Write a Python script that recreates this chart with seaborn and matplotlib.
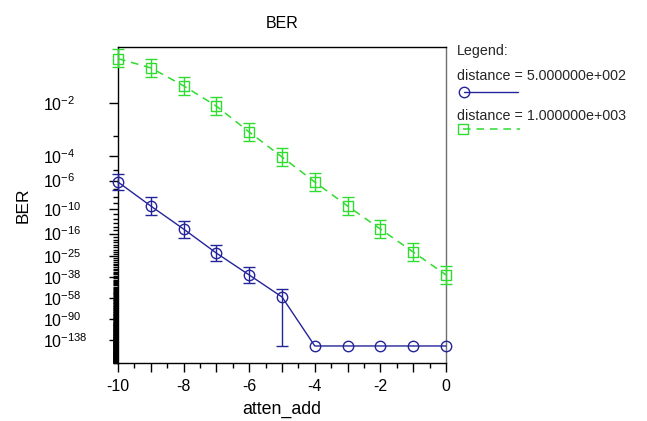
import numpy as np
import pandas as pd
import matplotlib
matplotlib.use("Agg")
import matplotlib.pyplot as plt
import seaborn as sns
from matplotlib.lines import Line2D
from matplotlib.ticker import FixedLocator, FixedFormatter, FuncFormatter

# ---- data -------------------------------------------------------------
atten_add = [-10, -9, -8, -7, -6, -5, -4, -3, -2, -1, 0]

# distance = 500
ber_500 = [7.1e-7, 3.4e-10, 2.2e-15, 3.2e-24, 4.0e-37, 1.3e-57,
           3e-156, 3e-156, 3e-156, 3e-156, 3e-156]
ber_500_lo = [8.3e-8, 6.2e-12, 3.6e-18, 3.2e-28, 1.6e-43, 3e-156,
              3e-156, 3e-156, 3e-156, 3e-156, 3e-156]
ber_500_hi = [4.4e-6, 9.3e-9, 2.8e-13, 1.0e-20, 1.0e-31, 4.0e-49,
              3e-156, 3e-156, 3e-156, 3e-156, 3e-156]

# distance = 1000
ber_1000 = [4.0e-2, 3.3e-2, 2.0e-2, 8.6e-3, 1.5e-3, 8.7e-5,
            7.1e-7, 3.4e-10, 2.2e-15, 1.0e-23, 4.0e-37]
ber_1000_lo = [3.36e-2, 2.61e-2, 1.42e-2, 5.2e-3, 6.3e-4, 2.0e-5,
               6.2e-8, 6.2e-12, 3.6e-18, 3.2e-28, 2.0e-44]
ber_1000_hi = [4.72e-2, 3.97e-2, 2.61e-2, 1.31e-2, 3.1e-3, 2.9e-4,
               5.4e-6, 9.3e-9, 4.8e-13, 5.6e-20, 4.0e-31]

y_major = [1e-2, 1e-4, 1e-6, 1e-10, 1e-16, 1e-25, 1e-38, 1e-58, 1e-90, 1e-138]
y_major_labels = ["$10^{-2}$", "$10^{-4}$", "$10^{-6}$", "$10^{-10}$", "$10^{-16}$",
                  "$10^{-25}$", "$10^{-38}$", "$10^{-58}$", "$10^{-90}$", "$10^{-138}$"]
y_minor_exponents = list(range(3, 221))

legend_labels = ["distance = 5.000000e+002", "distance = 1.000000e+003"]

BLUE = "#24249a"
GREEN = "#2fdc2f"

# ---- style ------------------------------------------------------------
sns.set_theme(style="ticks")
plt.rcParams["font.family"] = ["Liberation Sans", "DejaVu Sans"]
plt.rcParams["mathtext.default"] = "regular"


# double-log BER axis: t = -log10(-log10(y) - 1)
def ber_forward(y):
    y = np.clip(np.asarray(y, dtype=float), 1e-300, 0.099999)
    with np.errstate(all="ignore"):
        return -np.log10(-np.log10(y) - 1.0)


def ber_inverse(t):
    t = np.asarray(t, dtype=float)
    with np.errstate(all="ignore"):
        return 10.0 ** (-(1.0 + 10.0 ** (-t)))


fig = plt.figure(figsize=(6.47, 4.21), dpi=100)
ax = fig.add_axes([118 / 647, 58 / 421, 328 / 647, 316 / 421])
ax.set_yscale("function", functions=(ber_forward, ber_inverse))

df_500 = pd.DataFrame({"atten_add": atten_add, "BER": ber_500})
df_1000 = pd.DataFrame({"atten_add": atten_add, "BER": ber_1000})

sns.lineplot(data=df_500, x="atten_add", y="BER", ax=ax, color=BLUE,
             linewidth=1.0, marker="o", markersize=7.5,
             markerfacecolor="none", markeredgecolor=BLUE, markeredgewidth=1.0,
             clip_on=False, zorder=3)
sns.lineplot(data=df_1000, x="atten_add", y="BER", ax=ax, color=GREEN,
             linewidth=1.1, linestyle=(0, (5.0, 3.8)), marker="s", markersize=7.0,
             markerfacecolor="none", markeredgecolor=GREEN, markeredgewidth=1.0,
             clip_on=False, zorder=3)


def draw_bars(x, lo, hi, color):
    x = np.asarray(x, float)
    lo = np.asarray(lo, float)
    hi = np.asarray(hi, float)
    m = hi > lo
    ax.vlines(x[m], lo[m], hi[m], color=color, linewidth=1.0, clip_on=False, zorder=3)
    for ends in (lo[m], hi[m]):
        ax.plot(x[m], ends, linestyle="none", marker="_", markersize=8,
                markeredgewidth=1.0, color=color, clip_on=False, zorder=3)


draw_bars(atten_add, ber_500_lo, ber_500_hi, BLUE)
draw_bars(atten_add, ber_1000_lo, ber_1000_hi, GREEN)

# ---- axes -------------------------------------------------------------
ax.set_xlim(-10, 0)
ax.set_ylim(1e-221, 0.0487)

ax.xaxis.set_major_locator(FixedLocator(list(range(-10, 1))))
ax.xaxis.set_minor_locator(FixedLocator(list(np.arange(-9.5, 0, 1.0))))
ax.xaxis.set_major_formatter(FuncFormatter(lambda v, p: f"{int(round(v))}" if int(round(v)) % 2 == 0 else ""))

ax.yaxis.set_major_locator(FixedLocator(y_major))
ax.yaxis.set_major_formatter(FixedFormatter(y_major_labels))
ax.yaxis.set_minor_locator(FixedLocator([10.0 ** -k for k in y_minor_exponents]))
ax.yaxis.set_minor_formatter(FixedFormatter([""] * len(y_minor_exponents)))

ax.tick_params(axis="both", which="major", direction="out", length=6.3, width=1.0,
               color="black", labelsize=11.5, labelcolor="black")
ax.tick_params(axis="both", which="minor", direction="out", length=3.6, width=1.0,
               color="black")
ax.tick_params(axis="x", which="major", pad=5.0)
ax.tick_params(axis="y", which="major", pad=47.5)
for lab in ax.get_yticklabels():
    lab.set_horizontalalignment("left")

for side in ("left", "bottom", "top"):
    ax.spines[side].set_color("black")
    ax.spines[side].set_linewidth(1.0)
ax.spines["right"].set_color("#707070")
ax.spines["right"].set_linewidth(1.0)

ax.set_xlabel("atten_add", fontsize=12.8, color="black", labelpad=5)
ax.set_ylabel("BER", fontsize=12.5, color="black")
ax.yaxis.set_label_coords(-0.265, 0.5)
ax.set_title("BER", fontsize=11.5, color="black", pad=14)

# ---- legend block to the right of the axes ----------------------------
def fx(px):
    return px / 647


def fy(py):
    return 1 - py / 421


fig.text(fx(457), fy(51.5), "Legend:", fontsize=10.3, ha="left", va="center")
fig.text(fx(457), fy(76.5), legend_labels[0], fontsize=10.3, ha="left", va="center")
fig.text(fx(457), fy(115.5), legend_labels[1], fontsize=10.3, ha="left", va="center")

fig.add_artist(Line2D([fx(464), fx(518)], [fy(91.5)] * 2, color=BLUE, linewidth=1.0,
                      transform=fig.transFigure))
fig.add_artist(Line2D([fx(464)], [fy(91.5)], color=BLUE, marker="o", markersize=7.5,
                      markerfacecolor="none", markeredgewidth=1.0, linestyle="none",
                      transform=fig.transFigure))
fig.add_artist(Line2D([fx(463), fx(520)], [fy(129)] * 2, color=GREEN, linewidth=1.1,
                      linestyle=(0, (5.0, 3.8)), transform=fig.transFigure))
fig.add_artist(Line2D([fx(463)], [fy(129)], color=GREEN, marker="s", markersize=7.0,
                      markerfacecolor="none", markeredgewidth=1.0, linestyle="none",
                      transform=fig.transFigure))

fig.savefig("out.png", dpi=100, facecolor="white")
